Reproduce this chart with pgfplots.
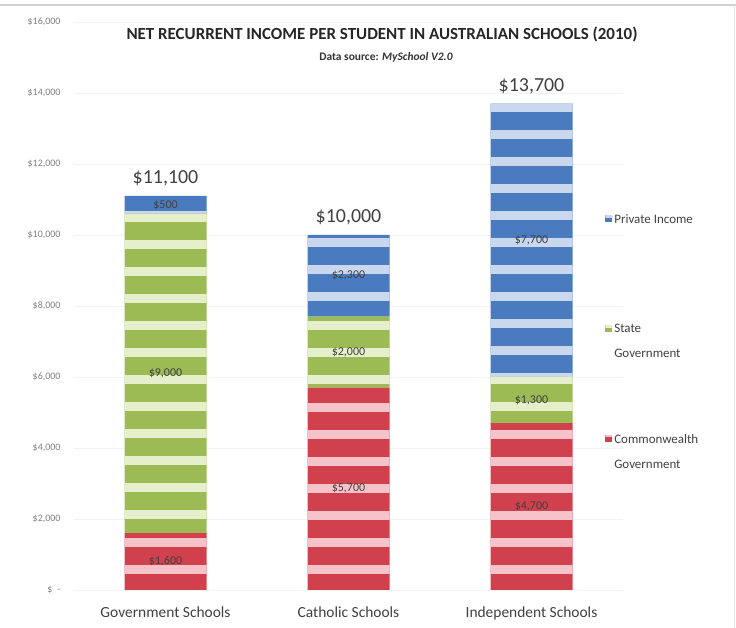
\documentclass[border=0pt]{standalone}
\usepackage{pgfplots}
\pgfplotsset{compat=1.18}
\usepackage{fontspec}
\setmainfont{Carlito}
\usetikzlibrary{patterns}
\pgfdeclarepatternformonly{hstripes}{\pgfpointorigin}{\pgfpoint{10pt}{27.5pt}}{\pgfpoint{10pt}{27.5pt}}{%
  \pgfpathrectangle{\pgfpointorigin}{\pgfpoint{10pt}{9pt}}\pgfusepath{fill}}
\definecolor{cblue}{HTML}{4A7BBE}
\definecolor{cbluel}{HTML}{C9D8EE}
\definecolor{cgreen}{HTML}{9DBB55}
\definecolor{cgreenl}{HTML}{E6EFCC}
\definecolor{cred}{HTML}{D1404D}
\definecolor{credl}{HTML}{F6C3CB}
\definecolor{txt}{HTML}{404040}
\tikzset{seglab/.style={font=\fontsize{12}{14}\selectfont, text=txt},
  totlab/.style={font=\fontsize{20}{22}\selectfont, text=txt, anchor=south, yshift=6bp}}
\begin{document}
\begin{tikzpicture}
\useasboundingbox (0,0) rectangle (736bp,628bp);
\draw[gray!35, line width=1.5bp] (0,623bp) -- (736bp,623bp);
\draw[gray!20] (734bp,0) -- (734bp,623bp);
\node[font=\fontsize{17}{20}\selectfont\bfseries, text=black!85] at (382bp,593bp) {NET RECURRENT INCOME PER STUDENT IN AUSTRALIAN SCHOOLS (2010)};
\node[font=\fontsize{11.5}{13}\selectfont\bfseries, text=black!80] at (386bp,571bp) {Data source: \textit{MySchool V2.0}};
\begin{axis}[
  at={(74bp,38bp)}, anchor=south west, scale only axis,
  width=549bp, height=568bp,
  ybar stacked, bar width=82bp,
  xmin=-0.5, xmax=2.5, ymin=0, ymax=16000,
  xtick={0,1,2},
  xticklabels={Government Schools, Catholic Schools, Independent Schools},
  ytick={0,2000,4000,6000,8000,10000,12000,14000,16000},
  scaled y ticks=false,
  yticklabels={\$\,\,\,-,{\$2,000},{\$4,000},{\$6,000},{\$8,000},{\$10,000},{\$12,000},{\$14,000},{\$16,000}},
  axis line style={draw=none}, major tick style={draw=none},
  ymajorgrids, grid style={gray!10},
  xticklabel style={font=\fontsize{15.5}{17}\selectfont, text=txt, yshift=-13bp},
  yticklabel style={font=\fontsize{10}{12}\selectfont, text=gray, xshift=-10bp},
  reverse legend,
  legend style={draw=none, fill=none, at={(0.962,0.669)}, anchor=north west,
    font=\fontsize{13}{25}\selectfont, text=txt,
    cells={align=left, anchor=west}, row sep=71bp},
]
\addplot[fill=cred, draw=none,
  postaction={pattern=hstripes, pattern color=credl},
  legend image code/.code={\fill[cred] (0bp,9.5bp) rectangle (7bp,16.5bp);}]
  coordinates {(0,1600) (1,5700) (2,4700)};
\addplot[fill=cgreen, draw=none,
  postaction={pattern=hstripes, pattern color=cgreenl},
  legend image code/.code={\fill[cgreen] (0bp,9.5bp) rectangle (7bp,16.5bp);}]
  coordinates {(0,9000) (1,2000) (2,1300)};
\addplot[fill=cblue, draw=none,
  postaction={pattern=hstripes, pattern color=cbluel},
  legend image code/.code={\fill[cblue] (0bp,9.5bp) rectangle (7bp,16.5bp);}]
  coordinates {(0,500) (1,2300) (2,7700)};
\legend{{Commonwealth\\Government},{State\\Government},{Private Income\\\strut}}
\coordinate (a1) at (axis cs:0,800);
\coordinate (a2) at (axis cs:0,6100);
\coordinate (a3) at (axis cs:0,10850);
\coordinate (b1) at (axis cs:1,2850);
\coordinate (b2) at (axis cs:1,6700);
\coordinate (b3) at (axis cs:1,8850);
\coordinate (c1) at (axis cs:2,2350);
\coordinate (c2) at (axis cs:2,5350);
\coordinate (c3) at (axis cs:2,9850);
\coordinate (ta) at (axis cs:0,11100);
\coordinate (tb) at (axis cs:1,10000);
\coordinate (tc) at (axis cs:2,13700);
\end{axis}
\node[seglab] at (a1) {\$1,600};
\node[seglab] at (a2) {\$9,000};
\node[seglab] at (a3) {\$500};
\node[seglab] at (b1) {\$5,700};
\node[seglab] at (b2) {\$2,000};
\node[seglab] at (b3) {\$2,300};
\node[seglab] at (c1) {\$4,700};
\node[seglab] at (c2) {\$1,300};
\node[seglab] at (c3) {\$7,700};
\node[totlab] at (ta) {\$11,100};
\node[totlab] at (tb) {\$10,000};
\node[totlab] at (tc) {\$13,700};
\end{tikzpicture}
\end{document}
